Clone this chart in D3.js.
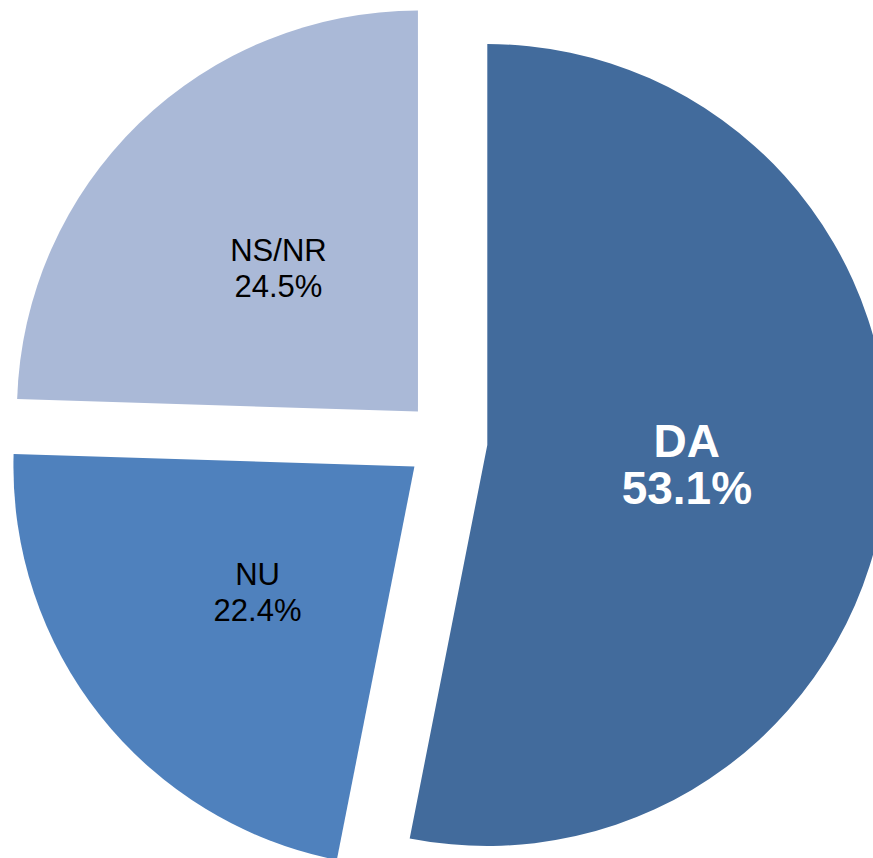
<!DOCTYPE html>
<html>
<head>
<meta charset="utf-8">
<script src="https://d3js.org/d3.v7.min.js"></script>
<style>
    body { margin: 0; background: #fff; overflow: hidden; }
    svg { display: block; }
    text { font-family: "Liberation Sans", Arial, sans-serif; text-anchor: middle; }
</style>
</head>
<body>
<svg id="chart"></svg>
<script>
// chart data
const categories = ['DA', 'NU', 'NS/NR'];
const values = [53.1, 22.4, 24.5];
const colors = ['#426B9C', '#4F81BD', '#AAB9D7'];

const width = 873, height = 858;
const cx = 446.5, cy = 441;
const radius = 401;
const explode = 41;

const svg = d3.select('#chart').attr('width', width).attr('height', height);

const data = categories.map((c, i) => ({name: c, value: values[i], color: colors[i]}));

const pie = d3.pie().sort(null).value(d => d.value);
const arc = d3.arc().innerRadius(0).outerRadius(radius);

const slices = svg.append('g')
    .attr('transform', `translate(${cx},${cy})`)
    .selectAll('g')
    .data(pie(data))
    .enter().append('g')
    .attr('transform', d => {
        const mid = (d.startAngle + d.endAngle) / 2;
        return `translate(${explode * Math.sin(mid)},${-explode * Math.cos(mid)})`;
    });

slices.append('path')
    .attr('d', arc)
    .attr('fill', d => d.data.color);

// labels: name + percent, big bold white on the main slice
slices.each(function(d, i) {
    const [lx, ly] = arc.centroid(d);
    const big = i === 0;
    const fs = big ? 46 : 31;
    const lh = big ? 47 : 36;
    const cap = big ? 33 : 23;
    const b1 = ly - (lh - cap) / 2;
    const t = d3.select(this).append('text')
        .attr('font-size', fs)
        .attr('font-weight', big ? 'bold' : 'normal')
        .attr('fill', big ? '#fff' : '#000');
    t.append('tspan').attr('x', lx).attr('y', b1).text(d.data.name);
    t.append('tspan').attr('x', lx).attr('y', b1 + lh).text(d.data.value.toFixed(1) + '%');
});
</script>
</body>
</html>
